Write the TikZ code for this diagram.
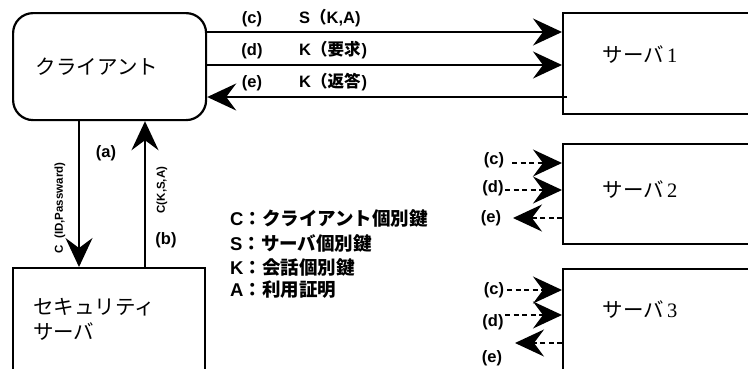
\documentclass[tikz,border=0pt]{standalone}
\usepackage{fontspec}
\setmainfont{Liberation Sans}
\newfontfamily\cjk{Noto Sans CJK JP}
\newfontfamily\serifnum{Liberation Serif}
\usetikzlibrary{arrows.meta,calc}
\begin{document}
\begin{tikzpicture}[x=1pt,y=-1pt,
  box/.style={draw, line width=2.2pt, inner sep=0pt, anchor=north west},
  arr/.style={line width=2pt, -{Stealth[length=29pt,width=27pt,inset=10pt]}},
  darr/.style={arr, dash pattern=on 5pt off 3.5pt},
  lab/.style={font=\fontsize{16.5}{16.5}\selectfont\bfseries, inner sep=0pt},
  rlab/.style={font=\fontsize{11.5}{11.5}\selectfont\bfseries, inner sep=0pt, rotate=90},
  boxtxt/.style={font=\fontsize{20.5}{25}\selectfont\cjk, inner sep=0pt},
  legend/.style={font=\fontsize{18.5}{18.5}\selectfont\bfseries, inner sep=0pt, anchor=west},
]
\useasboundingbox (0,0) rectangle (748,368);

% boxes
\node[box, minimum width=193pt, minimum height=107pt, rounded corners=20pt] (client) at (12,12) {};
\node[box, minimum width=192pt, minimum height=150pt] (sec) at (12,267) {};
\node[box, minimum width=200pt, minimum height=101pt] (s1) at (562,12) {};
\node[box, minimum width=200pt, minimum height=100pt] (s2) at (562,143) {};
\node[box, minimum width=200pt, minimum height=150pt] (s3) at (562,268) {};

% box texts
\node[boxtxt] (tclient) at (97,67) {クライアント};
\node[boxtxt, anchor=north west, align=left] (tsec) at (33,298) {セキュリティ\\サーバ};
\node[boxtxt] (ts1) at (640,55) {サーバ\,{\serifnum 1}};
\node[boxtxt] (ts2) at (640,190) {サーバ\,{\serifnum 2}};
\node[boxtxt] (ts3) at (640,310) {サーバ\,{\serifnum 3}};

% client <-> server 1
\coordinate (yc) at (0,32);
\coordinate (yd) at (0,65);
\coordinate (ye) at (0,97);
\draw[arr] (client.east|-yc) -- (s1.west|-yc);
\draw[arr] (client.east|-yd) -- (s1.west|-yd);
\draw[arr] ($(s1.west|-ye)+(5,0)$) -- (client.east|-ye);
\node[lab] (lc) at (252,19) {(c)};
\node[lab] (ld) at (252,51) {(d)};
\node[lab] (le) at (252,83) {(e)};
\node[lab, anchor=west] (mc) at (299,18) {S{\cjk （}K,A)};
\node[lab, anchor=west] (md) at (299,50) {K{\cjk （要求}\kern1pt)};
\node[lab, anchor=west] (me) at (299,82) {K{\cjk （返答}\kern1pt)};

% client <-> security server
\coordinate (xa) at (79,0);
\coordinate (xb) at (145,0);
\draw[arr] (client.south-|xa) -- (sec.north-|xa);
\draw[arr] (sec.north-|xb) -- (client.south-|xb);
\node[lab] (la) at (106,153) {(a)};
\node[lab] (lb) at (166,240) {(b)};
\node[rlab] (ra) at (60,208) {C\ \ (ID,Passward)};
\node[rlab] (rb) at (162,190) {C(K,S,A)};

% legend
\node[legend] (g1) at (230,218) {C{\cjk ：クライアント個別鍵}};
\node[legend] (g2) at (230,243) {S{\cjk ：サーバ個別鍵}};
\node[legend] (g3) at (230,267) {K{\cjk ：会話個別鍵}};
\node[legend] (g4) at (230,290) {A{\cjk ：利用証明}};

% server 2
\coordinate (c2) at (512,163);
\coordinate (d2) at (505,190);
\coordinate (e2) at (513,218);
\draw[darr] (c2) -- (s2.west|-c2);
\draw[darr] (d2) -- (s2.west|-d2);
\draw[darr] (s2.west|-e2) -- (e2);
\node[lab] (lc2) at (494,160) {(c)};
\node[lab] (ld2) at (493,188) {(d)};
\node[lab] (le2) at (491,218) {(e)};

% server 3
\coordinate (c3) at (507,290);
\coordinate (d3) at (505,315);
\coordinate (e3) at (515,343);
\draw[darr] (c3) -- (s3.west|-c3);
\draw[darr] (d3) -- (s3.west|-d3);
\draw[darr] (s3.west|-e3) -- (e3);
\node[lab] (lc3) at (494,290) {(c)};
\node[lab] (ld3) at (493,322) {(d)};
\node[lab] (le3) at (492,358) {(e)};
\end{tikzpicture}
\end{document}
